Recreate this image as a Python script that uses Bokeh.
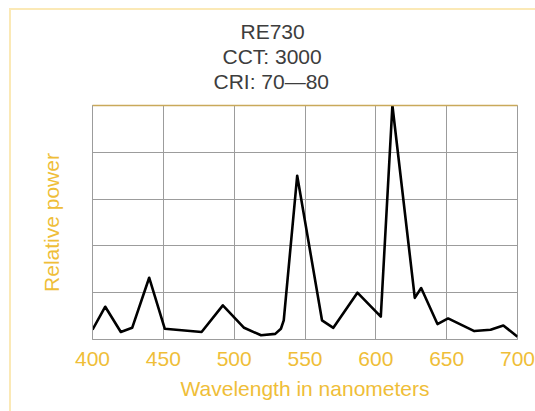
from bokeh.plotting import figure
from bokeh.models import FixedTicker, Title, LinearAxis
from bokeh.embed import file_html
from bokeh.resources import INLINE

# Spectral power distribution
wavelength = [400, 409, 420, 428, 440, 451, 477, 492, 507, 519, 529, 533, 535,
              544.5, 562, 570, 587, 603.5, 611.7, 627.5, 632, 643.5, 651,
              669.5, 681, 690, 700]
power = [0.21, 0.70, 0.16, 0.25, 1.32, 0.23, 0.16, 0.73, 0.25, 0.09, 0.12, 0.23, 0.41,
         3.50, 0.41, 0.25, 1.00, 0.49, 5.00, 0.89, 1.10, 0.33, 0.45,
         0.18, 0.21, 0.30, 0.06]
x_ticks = [400, 450, 500, 550, 600, 650, 700]
y_ticks = [0, 1, 2, 3, 4, 5]
title_lines = ["RE730", "CCT: 3000", "CRI: 70\u201480"]

GOLD = "#EFBE38"
GRID = "#9c9c9c"
FONT = "Liberation Sans"
FS = "21px"

p = figure(width=535, height=411, x_range=(400, 700), y_range=(0, 5),
           output_backend="svg", toolbar_location=None,
           min_border_left=92, min_border_right=18, min_border_top=105, min_border_bottom=72)
p.border_fill_color = None
p.background_fill_color = "white"
p.outline_line_color = GRID
p.styles = {"box-shadow": "inset 9px 8px 0 0 white, inset 11px 10px 0 0 #FBE9B6"}

p.line(wavelength, power, line_color="black", line_width=2.6, line_join="round")

p.xaxis.ticker = FixedTicker(ticks=x_ticks)
p.yaxis.ticker = FixedTicker(ticks=[])
p.xgrid.ticker = FixedTicker(ticks=x_ticks)
p.ygrid.ticker = FixedTicker(ticks=y_ticks)
for g in (p.xgrid, p.ygrid):
    g.grid_line_color = GRID
    g.grid_line_width = 1

for ax in (p.xaxis, p.yaxis):
    ax.axis_line_color = GRID
    ax.major_tick_line_color = None
    ax.minor_tick_line_color = None
    ax.major_tick_out = 0
    ax.major_tick_in = 0
    ax.axis_label_text_color = GOLD
    ax.axis_label_text_font = FONT
    ax.axis_label_text_font_size = FS
    ax.axis_label_text_font_style = "normal"

p.xaxis.axis_label = "Wavelength in nanometers"
p.xaxis.major_label_text_color = GOLD
p.xaxis.major_label_text_font = FONT
p.xaxis.major_label_text_font_size = FS
p.xaxis.major_label_standoff = 12
p.xaxis.axis_label_standoff = 8

p.yaxis.axis_label = "Relative power"
p.yaxis.major_label_standoff = 0
p.yaxis.axis_label_standoff = 30

# gold top edge of the frame
top_axis = LinearAxis(ticker=FixedTicker(ticks=[]), axis_line_color="#C9A95A",
                      axis_line_width=1.5, major_tick_line_color=None,
                      minor_tick_line_color=None, major_tick_in=0, major_tick_out=0,
                      major_label_standoff=0)
p.add_layout(top_axis, "above")

# small gap between the frame and the title block
p.add_layout(Title(text=" ", text_font_size="1px", standoff=10), "above")

# title: three centred lines (centred on the whole picture, left of the frame centre)
title_offsets = [148, 130, 121]
for line, off in reversed(list(zip(title_lines, title_offsets))):
    p.add_layout(Title(text=line, align="left", offset=off, standoff=0,
                       text_font=FONT, text_font_size=FS, text_font_style="normal",
                       text_color="#3d3d3d"), "above")

open("out.html", "w").write(file_html(p, INLINE))
